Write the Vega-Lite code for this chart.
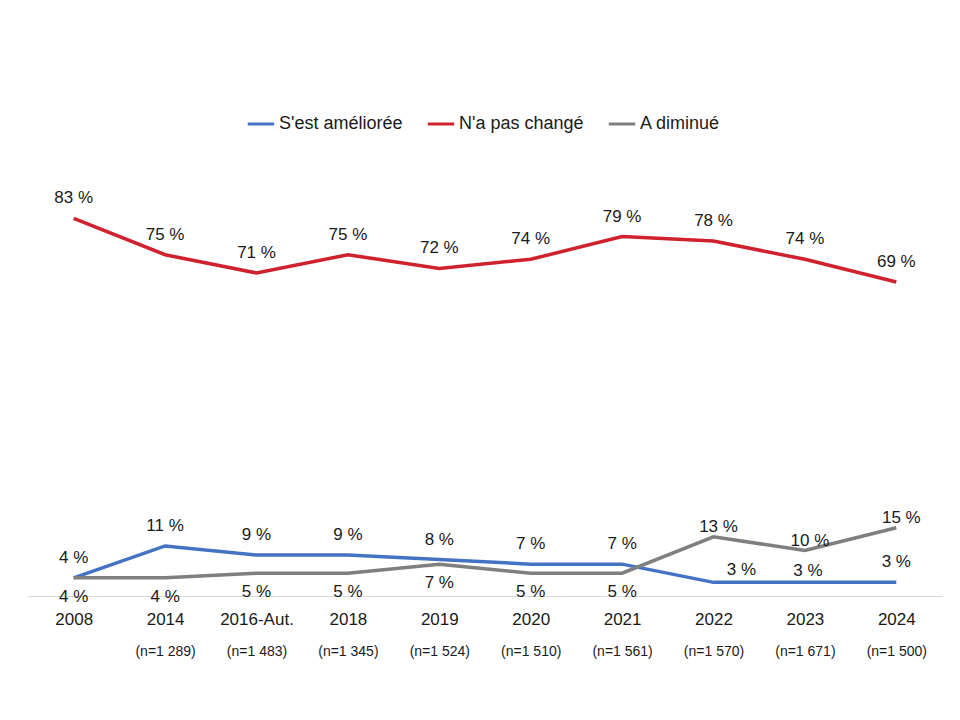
{
  "$schema": "https://vega.github.io/schema/vega-lite/v6.json",
  "width": 914,
  "height": 455,
  "autosize": "none",
  "padding": {"left": 28, "top": 141, "right": 18, "bottom": 124},
  "background": "white",
  "config": {"view": {"stroke": null}, "font": "Liberation Sans"},
  "data": {"values": [
    {"cat": "2008|", "series": "S'est améliorée", "value": 4},
    {"cat": "2014|(n=1 289)", "series": "S'est améliorée", "value": 11},
    {"cat": "2016-Aut.|(n=1 483)", "series": "S'est améliorée", "value": 9},
    {"cat": "2018|(n=1 345)", "series": "S'est améliorée", "value": 9},
    {"cat": "2019|(n=1 524)", "series": "S'est améliorée", "value": 8},
    {"cat": "2020|(n=1 510)", "series": "S'est améliorée", "value": 7},
    {"cat": "2021|(n=1 561)", "series": "S'est améliorée", "value": 7},
    {"cat": "2022|(n=1 570)", "series": "S'est améliorée", "value": 3},
    {"cat": "2023|(n=1 671)", "series": "S'est améliorée", "value": 3},
    {"cat": "2024|(n=1 500)", "series": "S'est améliorée", "value": 3},
    {"cat": "2008|", "series": "N'a pas changé", "value": 83},
    {"cat": "2014|(n=1 289)", "series": "N'a pas changé", "value": 75},
    {"cat": "2016-Aut.|(n=1 483)", "series": "N'a pas changé", "value": 71},
    {"cat": "2018|(n=1 345)", "series": "N'a pas changé", "value": 75},
    {"cat": "2019|(n=1 524)", "series": "N'a pas changé", "value": 72},
    {"cat": "2020|(n=1 510)", "series": "N'a pas changé", "value": 74},
    {"cat": "2021|(n=1 561)", "series": "N'a pas changé", "value": 79},
    {"cat": "2022|(n=1 570)", "series": "N'a pas changé", "value": 78},
    {"cat": "2023|(n=1 671)", "series": "N'a pas changé", "value": 74},
    {"cat": "2024|(n=1 500)", "series": "N'a pas changé", "value": 69},
    {"cat": "2008|", "series": "A diminué", "value": 4},
    {"cat": "2014|(n=1 289)", "series": "A diminué", "value": 4},
    {"cat": "2016-Aut.|(n=1 483)", "series": "A diminué", "value": 5},
    {"cat": "2018|(n=1 345)", "series": "A diminué", "value": 5},
    {"cat": "2019|(n=1 524)", "series": "A diminué", "value": 7},
    {"cat": "2020|(n=1 510)", "series": "A diminué", "value": 5},
    {"cat": "2021|(n=1 561)", "series": "A diminué", "value": 5},
    {"cat": "2022|(n=1 570)", "series": "A diminué", "value": 13},
    {"cat": "2023|(n=1 671)", "series": "A diminué", "value": 10},
    {"cat": "2024|(n=1 500)", "series": "A diminué", "value": 15}
  ]},
  "transform": [{"calculate": "datum.value + ' %'", "as": "lbl"}],
  "encoding": {
    "x": {"field": "cat", "type": "nominal", "sort": null, "scale": {"type": "point", "padding": 0.5}},
    "y": {"field": "value", "type": "quantitative", "scale": {"domain": [0, 100]}, "axis": null}
  },
  "resolve": {"axis": {"x": "independent"}},
  "layer": [
    {
      "mark": {"type": "line", "strokeWidth": 3.5},
      "encoding": {
        "x": {"field": "cat", "type": "nominal", "sort": null, "scale": {"type": "point", "padding": 0.5},
          "axis": {"orient": "bottom", "title": null, "labelExpr": "split(datum.value, '|')[0]", "labelAngle": 0,
            "labelFontSize": 17, "labelColor": "#1a1a1a", "labelPadding": 15, "ticks": false,
            "domainColor": "#d9d9d9", "domainWidth": 1, "grid": false}},
        "color": {"field": "series", "type": "nominal",
          "scale": {"domain": ["S'est améliorée", "N'a pas changé", "A diminué"], "range": ["#4472C4", "#D0212E", "#7F7F7F"]},
          "legend": {"orient": "none", "legendX": 218, "legendY": -32, "direction": "horizontal", "title": null,
            "symbolType": "stroke", "symbolStrokeWidth": 3, "symbolSize": 700, "labelFontSize": 18,
            "labelColor": "#1a1a1a", "columnPadding": 18, "labelOffset": 3}}
      }
    },
    {
      "transform": [{"filter": {"field": "series", "oneOf": ["N'a pas changé"]}}],
      "mark": {"type": "text", "dy": -20, "fontSize": 17, "color": "#1a1a1a", "baseline": "middle"},
      "encoding": {
        "x": {"field": "cat", "type": "nominal", "sort": null, "scale": {"type": "point", "padding": 0.5},
          "axis": {"orient": "bottom", "title": null, "labelExpr": "split(datum.value, '|')[1]", "labelAngle": 0,
            "labelFontSize": 14, "labelColor": "#1a1a1a", "labelPadding": 48, "ticks": false, "domain": false, "grid": false}},
        "text": {"field": "lbl"}
      }
    },
    {
      "transform": [
        {"filter": {"field": "series", "oneOf": ["S'est améliorée"]}},
        {"filter": {"not": {"field": "cat", "oneOf": ["2022|(n=1 570)", "2023|(n=1 671)"]}}}
      ],
      "mark": {"type": "text", "dy": -20, "fontSize": 17, "color": "#1a1a1a", "baseline": "middle"},
      "encoding": {"x": {"field": "cat", "type": "nominal", "sort": null, "axis": null}, "text": {"field": "lbl"}}
    },
    {
      "transform": [
        {"filter": {"field": "series", "oneOf": ["S'est améliorée"]}},
        {"filter": {"field": "cat", "oneOf": ["2022|(n=1 570)"]}}
      ],
      "mark": {"type": "text", "dy": -12, "dx": 28, "fontSize": 17, "color": "#1a1a1a", "baseline": "middle"},
      "encoding": {"x": {"field": "cat", "type": "nominal", "sort": null, "axis": null}, "text": {"field": "lbl"}}
    },
    {
      "transform": [
        {"filter": {"field": "series", "oneOf": ["S'est améliorée"]}},
        {"filter": {"field": "cat", "oneOf": ["2023|(n=1 671)"]}}
      ],
      "mark": {"type": "text", "dy": -11, "dx": 3, "fontSize": 17, "color": "#1a1a1a", "baseline": "middle"},
      "encoding": {"x": {"field": "cat", "type": "nominal", "sort": null, "axis": null}, "text": {"field": "lbl"}}
    },
    {
      "transform": [
        {"filter": {"field": "series", "oneOf": ["A diminué"]}},
        {"filter": {"not": {"field": "cat", "oneOf": ["2022|(n=1 570)", "2023|(n=1 671)", "2024|(n=1 500)"]}}}
      ],
      "mark": {"type": "text", "dy": 19, "fontSize": 17, "color": "#1a1a1a", "baseline": "middle"},
      "encoding": {"x": {"field": "cat", "type": "nominal", "sort": null, "axis": null}, "text": {"field": "lbl"}}
    },
    {
      "transform": [
        {"filter": {"field": "series", "oneOf": ["A diminué"]}},
        {"filter": {"field": "cat", "oneOf": ["2022|(n=1 570)", "2023|(n=1 671)", "2024|(n=1 500)"]}}
      ],
      "mark": {"type": "text", "dy": -10, "dx": 5, "fontSize": 17, "color": "#1a1a1a", "baseline": "middle"},
      "encoding": {"x": {"field": "cat", "type": "nominal", "sort": null, "axis": null}, "text": {"field": "lbl"}}
    }
  ]
}
